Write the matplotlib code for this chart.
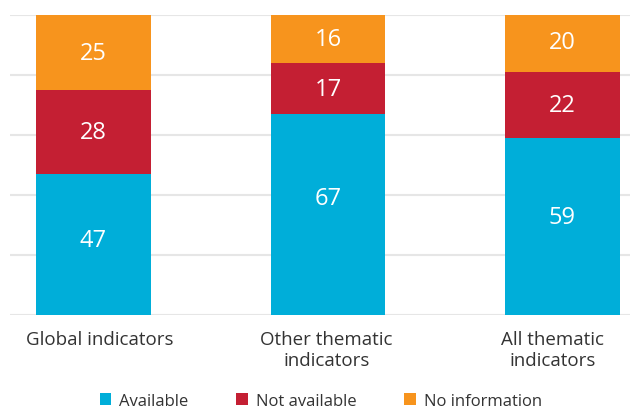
import matplotlib
matplotlib.use("Agg")
import matplotlib.pyplot as plt
import matplotlib.transforms as mtrans
from matplotlib.patches import Patch

categories = ["Global indicators", "Other thematic\nindicators", "All thematic\nindicators"]
available = [47, 67, 59]
not_available = [28, 17, 22]
no_information = [25, 16, 20]
series_names = ["Available", "Not available", "No information"]
colors = ["#00AED9", "#C41F33", "#F7941D"]

plt.rcParams['font.family'] = ['Open Sans', 'DejaVu Sans']

fig = plt.figure(figsize=(6.3, 4.1), dpi=100)
ax = fig.add_axes([10/630, 94/410, 620/630, 300/410])

x = list(range(len(categories)))
w = 0.49
# label nudges (data units) for the lowest series, as placed in the original
label_nudge = [[1.5, 5.5, 3.3], [0, 0, 0], [0, 0, 0]]
bottoms = [0] * len(categories)
for si, (vals, col) in enumerate(zip([available, not_available, no_information], colors)):
    ax.bar(x, vals, w, bottom=bottoms, color=col, zorder=3)
    for xi, v, b, nd in zip(x, vals, bottoms, label_nudge[si]):
        ax.text(xi, b + v / 2 + nd, str(v), ha='center', va='center', color='white', fontsize=17, zorder=4)
    bottoms = [b + v for b, v in zip(bottoms, vals)]

ax.set_xlim(-0.356, 2.288)
ax.set_ylim(0, 100)
ax.set_yticks([0, 20, 40, 60, 80, 100])
ax.yaxis.grid(True, color='#e6e6e6', linewidth=1.5, zorder=0)
ax.tick_params(axis='y', left=False, labelleft=False)
ax.tick_params(axis='x', bottom=False, labelsize=13.5, labelcolor='#333333', pad=7)
ax.set_xticks(x)
ax.set_xticklabels(categories, linespacing=1.25)
# horizontal nudges (pixels) of category labels as in the original
tick_dx = [6, -1.5, -10]
for lbl, dx in zip(ax.get_xticklabels(), tick_dx):
    lbl.set_transform(lbl.get_transform() + mtrans.ScaledTranslation(dx / 100, 0, fig.dpi_scale_trans))
for s in ax.spines.values():
    s.set_visible(False)

handles = [Patch(facecolor=c, label=n) for c, n in zip(colors, series_names)]
fig.legend(handles=handles, loc='center', bbox_to_anchor=(0.509, 0.02), ncol=3, frameon=False,
           fontsize=12, handlelength=0.7, handleheight=0.7, handletextpad=0.45, columnspacing=2.9,
           labelcolor='#333333')

fig.savefig("out.png", dpi=100)
